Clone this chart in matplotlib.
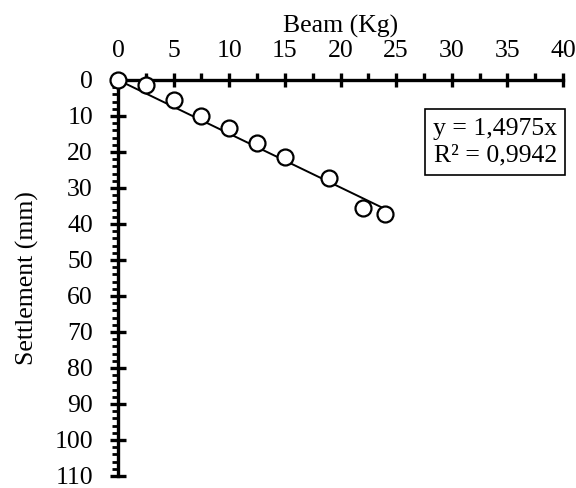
import numpy as np
import matplotlib
matplotlib.use("Agg")
import matplotlib.pyplot as plt
from matplotlib.ticker import MultipleLocator

beam_kg = [0, 2.5, 5, 7.5, 10, 12.5, 15, 19, 22, 24]
settlement_mm = [0, 1.4, 5.6, 9.9, 13.3, 17.4, 21.4, 27.2, 35.6, 37.2]
eq_text = "y = 1,4975x\nR² = 0,9942"

plt.rcParams['font.family'] = ['Liberation Serif', 'DejaVu Serif']
FS = 18.5

fig = plt.figure(figsize=(5.76, 4.88), dpi=100)
ax = fig.add_axes([118/576, 1-476/488, (563-118)/576, (476-80)/488])

x = np.array(beam_kg)
y = np.array(settlement_mm)
slope = np.sum(x*y)/np.sum(x*x)
xl = np.array([0, x.max()])
ax.plot(xl, slope*xl, color='black', lw=1.4, zorder=2)
ax.plot(x, y, 'o', ms=11.5, mfc='white', mec='black', mew=1.6, zorder=3, clip_on=False)

ax.set_xlim(0, 40)
ax.set_ylim(110, 0)
ax.xaxis.tick_top()
ax.xaxis.set_label_position('top')
ax.spines['right'].set_visible(False)
ax.spines['bottom'].set_visible(False)
ax.spines['top'].set_linewidth(2.4)
ax.spines['left'].set_linewidth(2.4)

ax.xaxis.set_major_locator(MultipleLocator(5))
ax.xaxis.set_minor_locator(MultipleLocator(2.5))
ax.yaxis.set_major_locator(MultipleLocator(10))
ax.yaxis.set_minor_locator(MultipleLocator(2))

ax.tick_params(axis='x', which='major', direction='inout', length=10, width=2.4, labelsize=FS, pad=8)
ax.tick_params(axis='x', which='minor', direction='out', length=5, width=2.4)
ax.tick_params(axis='y', which='major', direction='inout', length=12, width=2.4, labelsize=FS, pad=12)
ax.tick_params(axis='y', which='minor', direction='out', length=4, width=2.0)

ax.set_xlabel('Beam (Kg)', fontsize=FS, labelpad=5)
ax.set_ylabel('Settlement (mm)', fontsize=FS, labelpad=11)

ax.text(0.9865, 0.905, eq_text, transform=ax.transAxes, ha='right', va='top', fontsize=FS,
        linespacing=1.3,
        bbox=dict(boxstyle='square,pad=0.32', fc='white', ec='black', lw=1.2))

fig.savefig('out.png', dpi=100)
